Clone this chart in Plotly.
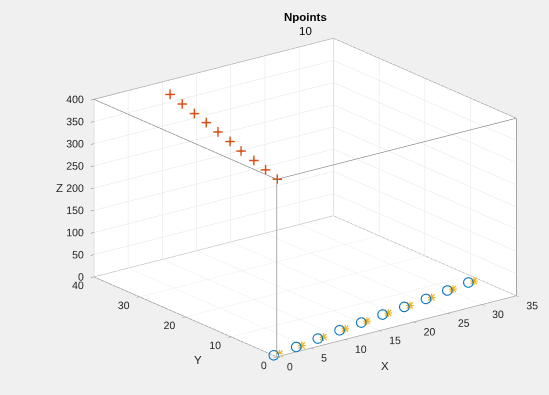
import plotly.graph_objects as go

# ---- data ----
circ_x = [0.05, 2.81, 6.31, 10.07, 13.70, 17.36, 20.97, 24.66, 28.41, 32.04]
circ_y = [0.81, 0.04, 0.56, 1.42, 2.11, 2.92, 3.58, 4.36, 5.29, 6.13]
circ_z = [0.0, 11.4, 14.2, 14.2, 14.2, 14.2, 14.2, 14.2, 14.2, 14.2]

star_x = [0.90, 3.66, 7.16, 10.92, 14.55, 18.21, 21.82, 25.51, 29.26, 32.89]
star_y = [0.81, 0.04, 0.56, 1.42, 2.11, 2.92, 3.58, 4.36, 5.29, 6.13]
star_z = [0.0, 11.4, 14.2, 14.2, 14.2, 14.2, 14.2, 14.2, 14.2, 14.2]

plus_x = [8.1, 7.2, 6.3, 5.5, 4.6, 3.7, 2.7, 1.9, 1.0, 0.1]
plus_y = [35.5, 31.5, 27.5, 23.7, 19.8, 15.8, 11.9, 7.9, 4.0, 0.1]
plus_z = [400, 400, 400, 400, 400, 400, 400, 400, 400, 400]

x_range = [0, 35]
y_range = [0, 40]
z_range = [0, 400]
x_ticks = [0, 5, 10, 15, 20, 25, 30, 35]
y_ticks = [0, 10, 20, 30, 40]
z_ticks = [0, 50, 100, 150, 200, 250, 300, 350, 400]

BLUE = "#0072BD"
ORANGE = "#D95319"
YELLOW = "#EDB120"
EDGE = "#7a7a7a"
GRID = "#e4e4e4"
TXT = "#262626"
FONT = "Liberation Sans"
Y_LABEL_LIFT = 13  # z-lift of the floor tick-label anchors (keeps labels near the edge)
X_LABEL_LIFT = 10

fig = go.Figure()

# box edges (from the axis limits)
x0, x1 = x_range
y0, y1 = y_range
z0, z1 = z_range
edges = [
    ((x0, y0, z1), (x1, y0, z1)), ((x0, y0, z1), (x0, y1, z1)),
    ((x1, y0, z1), (x1, y1, z1)), ((x0, y1, z1), (x1, y1, z1)),
    ((x0, y0, z0), (x0, y0, z1)), ((x1, y0, z0), (x1, y0, z1)),
    ((x0, y1, z0), (x0, y1, z1)), ((x1, y1, z0), (x1, y1, z1)),
    ((x0, y0, z0), (x1, y0, z0)), ((x0, y0, z0), (x0, y1, z0)),
    ((x1, y0, z0), (x1, y1, z0)), ((x0, y1, z0), (x1, y1, z0)),
]
ex, ey, ez = [], [], []
for a, b in edges:
    ex += [a[0], b[0], None]
    ey += [a[1], b[1], None]
    ez += [a[2], b[2], None]
fig.add_trace(go.Scatter3d(x=ex, y=ey, z=ez, mode="lines",
                           line=dict(color=EDGE, width=1.2),
                           hoverinfo="skip", showlegend=False))

# data markers
fig.add_trace(go.Scatter3d(x=circ_x, y=circ_y, z=circ_z, mode="markers",
                           marker=dict(symbol="circle-open", size=6, color=BLUE),
                           showlegend=False))
fig.add_trace(go.Scatter3d(x=plus_x, y=plus_y, z=plus_z, mode="text",
                           text=["+"] * len(plus_x), textposition="middle center",
                           textfont=dict(color=ORANGE, size=20, family=FONT),
                           showlegend=False))
for ch, sz in (("+", 16), ("×", 16)):
    fig.add_trace(go.Scatter3d(x=star_x, y=star_y, z=star_z, mode="text",
                               text=[ch] * len(star_x), textposition="middle center",
                               textfont=dict(color=YELLOW, size=sz, family=FONT),
                               showlegend=False))

# tick labels placed on the axis edges through the scene scale
fig.add_trace(go.Scatter3d(x=[x0] * len(z_ticks), y=[y1] * len(z_ticks), z=z_ticks,
                           mode="text", text=[str(t) for t in z_ticks],
                           textposition="middle left",
                           textfont=dict(color=TXT, size=10.5, family=FONT),
                           hoverinfo="skip", showlegend=False))
fig.add_trace(go.Scatter3d(x=[x0] * len(y_ticks), y=y_ticks, z=[Y_LABEL_LIFT] * len(y_ticks),
                           mode="text", text=[str(t) for t in y_ticks],
                           textposition="bottom left",
                           textfont=dict(color=TXT, size=10.5, family=FONT),
                           hoverinfo="skip", showlegend=False))
fig.add_trace(go.Scatter3d(x=x_ticks, y=[y0] * len(x_ticks), z=[X_LABEL_LIFT] * len(x_ticks),
                           mode="text", text=[str(t) for t in x_ticks],
                           textposition="bottom right",
                           textfont=dict(color=TXT, size=10.5, family=FONT),
                           hoverinfo="skip", showlegend=False))

def ax(rng, ticks):
    return dict(
        title=dict(text=""),
        range=rng, tickvals=ticks, showticklabels=False,
        showgrid=True, gridcolor=GRID, gridwidth=1,
        showbackground=True, backgroundcolor="white",
        showline=False, zeroline=False, showspikes=False,
        ticks="outside", ticklen=4, tickcolor=EDGE,
        autorange=False,
    )

s = 1.526
k = 2.0
eye = [-0.572 * k, -0.749 * k, 0.334 * k]
sh = 0.155
cen = [-sh * 0.793, sh * 0.609, 0.0]

def note(text, px, py, size=11.5, color=TXT):
    return dict(text=text, x=px / 549, y=1 - py / 395, xanchor="center", yanchor="middle",
                xref="paper", yref="paper", showarrow=False,
                font=dict(family=FONT, size=size, color=color))

fig.update_layout(
    width=549, height=395,
    paper_bgcolor="#f0f0f0",
    margin=dict(l=0, r=0, t=0, b=0),
    scene=dict(
        domain=dict(x=[0.0, 1.0], y=[0.0, 1.0]),
        xaxis=ax(x_range, x_ticks),
        yaxis=ax(y_range, y_ticks),
        zaxis=ax(z_range, z_ticks),
        aspectmode="manual",
        aspectratio=dict(x=1 * s, y=1 * s, z=0.625 * s),
        camera=dict(
            eye=dict(x=eye[0] + cen[0], y=eye[1] + cen[1], z=eye[2] + cen[2]),
            up=dict(x=0, y=0, z=1),
            center=dict(x=cen[0], y=cen[1], z=cen[2]),
            projection=dict(type="orthographic"),
        ),
        bgcolor="#f0f0f0",
    ),
    annotations=[
        note("<b>Npoints</b>", 305, 17, 11.5, "#000000"),
        note("10", 305, 31, 11.5, "#000000"),
        note("X", 385, 366),
        note("Y", 198, 360),
        note("Z", 59, 188),
    ],
)

fig.write_html("out.html")
